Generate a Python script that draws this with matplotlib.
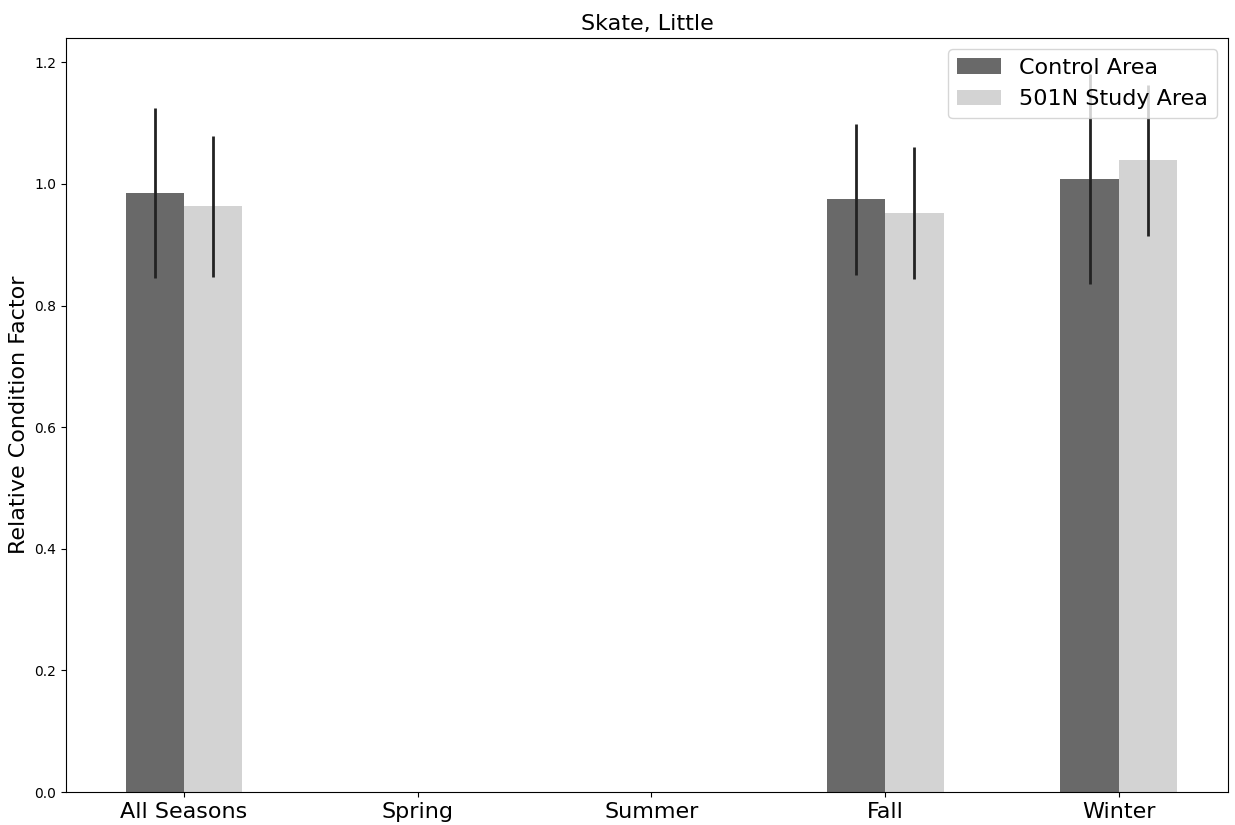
import numpy as np
import matplotlib
matplotlib.use("Agg")
import matplotlib.pyplot as plt

# data
seasons = ["All Seasons", "Spring", "Summer", "Fall", "Winter"]
control_mean = [0.985, np.nan, np.nan, 0.975, 1.008]
control_err = [0.140, np.nan, np.nan, 0.124, 0.172]
study_mean = [0.963, np.nan, np.nan, 0.952, 1.039]
study_err = [0.116, np.nan, np.nan, 0.108, 0.124]

x = np.arange(len(seasons))
width = 0.25

fig = plt.figure(figsize=(12.35, 8.25), dpi=100)
ax = fig.add_axes([0.0534, 0.04, 0.941, 0.914])

ax.bar(x - width / 2, control_mean, width, yerr=control_err, color="dimgray",
       error_kw=dict(ecolor="#222222", elinewidth=2, capsize=0), label="Control Area")
ax.bar(x + width / 2, study_mean, width, yerr=study_err, color="lightgray",
       error_kw=dict(ecolor="#222222", elinewidth=2, capsize=0), label="501N Study Area")

ax.set_xticks(x)
ax.set_xticklabels(seasons, fontsize=16)
ax.tick_params(axis="y", labelsize=10)
ax.set_xlim(-0.505, 4.467)
ax.set_ylim(0, 1.24)
ax.set_ylabel("Relative Condition Factor", fontsize=16)
ax.set_title("Skate, Little", fontsize=16)
ax.legend(loc="upper right", fontsize=16)

fig.savefig("out.png", dpi=100)
